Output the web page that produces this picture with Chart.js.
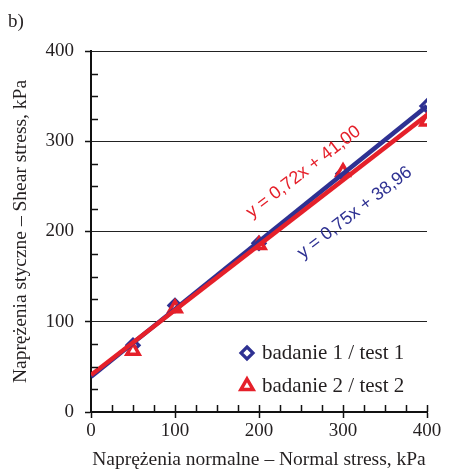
<!DOCTYPE html>
<html>
<head>
<meta charset="utf-8">
<script src="https://cdn.jsdelivr.net/npm/chart.js@4/dist/chart.umd.min.js"></script>
<style>
  html, body { margin: 0; padding: 0; background: #fff; }
  #wrap { width: 450px; height: 469px; position: relative; }
</style>
</head>
<body>
<div id="wrap"><canvas id="c"></canvas></div>
<script>
// Normal stress applied in the direct shear tests (kPa)
const normalStress = [50, 100, 200, 300, 400];
// Measured shear stress at failure (kPa)
const shearTest1 = [74, 118, 187, 264, 339];
const shearTest2 = [68, 115, 185, 266, 322];
// Linear fits: tau = a * sigma + b
const fitSlope = [0.75, 0.72];
const fitIntercept = [38.96, 41.00];
const fitRange = [0, 400];
const fitLabels = ['y = 0,75x + 38,96', 'y = 0,72x + 41,00'];
// Where each fit equation is written, in data units, plus its tilt (degrees)
const fitLabelAt = [[314, 221], [253, 266]];
const fitLabelAngle = [-37.6, -37.6];
const seriesNames = ['badanie 1 / test 1', 'badanie 2 / test 2'];
const axisRange = [0, 400];
const majorStep = 100;
const minorStep = 25;

const BLUE = '#2E3192';
const RED = '#E5202A';
const SERIF = '"Liberation Serif", "Times New Roman", serif';
const SANS = '"Liberation Sans", Arial, sans-serif';

const points = (xs, ys) => xs.map((x, i) => ({ x, y: ys[i] }));
const fitLine = k => fitRange.map(x => ({ x, y: fitSlope[k] * x + fitIntercept[k] }));

// Minor ticks, fit equations, legend and panel letter
const decorations = {
  id: 'decorations',
  afterDatasetsDraw(chart) {
    const { ctx, chartArea: a, scales: { x, y } } = chart;
    ctx.save();
    ctx.strokeStyle = '#111';
    ctx.lineWidth = 1.5;
    ctx.beginPath();
    for (let v = axisRange[0] + minorStep; v <= axisRange[1]; v += minorStep) {
      const py = Math.round(y.getPixelForValue(v)) + 0.5;
      if (v % majorStep !== 0) { ctx.moveTo(a.left, py); ctx.lineTo(a.left + 7, py); }
      const px = Math.round(x.getPixelForValue(v)) + 0.5;
      ctx.moveTo(px, a.bottom); ctx.lineTo(px, a.bottom - 7);
    }
    ctx.stroke();
    ctx.restore();
  },
  afterDraw(chart) {
    const { ctx, scales: { x, y } } = chart;
    ctx.save();
    // fit equations
    const colors = [BLUE, RED];
    ctx.font = '18px ' + SANS;
    ctx.textAlign = 'center';
    ctx.textBaseline = 'middle';
    fitLabels.forEach((t, k) => {
      const px = x.getPixelForValue(fitLabelAt[k][0]);
      const py = y.getPixelForValue(fitLabelAt[k][1]);
      ctx.save();
      ctx.translate(px, py);
      ctx.rotate(fitLabelAngle[k] * Math.PI / 180);
      ctx.fillStyle = colors[k];
      ctx.fillText(t, 0, 0);
      ctx.restore();
    });

    // legend
    const lx = 247, ly = [353, 386];
    ctx.lineJoin = 'miter';
    ctx.fillStyle = '#fff';
    // diamond
    ctx.strokeStyle = BLUE;
    ctx.lineWidth = 3.2;
    ctx.beginPath();
    ctx.moveTo(lx, ly[0] - 6); ctx.lineTo(lx + 6, ly[0]); ctx.lineTo(lx, ly[0] + 6); ctx.lineTo(lx - 6, ly[0]);
    ctx.closePath(); ctx.fill(); ctx.stroke();
    // triangle
    ctx.strokeStyle = RED;
    ctx.lineWidth = 3.5;
    const r = 7;
    ctx.beginPath();
    ctx.moveTo(lx, ly[1] - r);
    ctx.lineTo(lx + r * 0.866, ly[1] + r * 0.5);
    ctx.lineTo(lx - r * 0.866, ly[1] + r * 0.5);
    ctx.closePath(); ctx.fill(); ctx.stroke();

    ctx.fillStyle = '#231F20';
    ctx.font = '21px ' + SERIF;
    ctx.textAlign = 'left';
    ctx.textBaseline = 'middle';
    seriesNames.forEach((n, i) => ctx.fillText(n, lx + 15, ly[i]));

    ctx.font = '19px ' + SERIF;
    ctx.textBaseline = 'alphabetic';
    ctx.fillText('b)', 8, 27);
    ctx.restore();
  }
};

new Chart(document.getElementById('c'), {
  type: 'scatter',
  data: {
    datasets: [
      {
        label: 'fit 2', data: fitLine(1), showLine: true, borderColor: RED,
        borderWidth: 4.5, pointRadius: 0, order: 0
      },
      {
        label: 'fit 1', data: fitLine(0), showLine: true, borderColor: BLUE,
        borderWidth: 4.5, pointRadius: 0, order: 1
      },
      {
        label: seriesNames[1], data: points(normalStress, shearTest2),
        pointStyle: 'triangle', pointRadius: 7, pointBorderWidth: 3.5,
        pointBorderColor: RED, pointBackgroundColor: '#fff', order: 2
      },
      {
        label: seriesNames[0], data: points(normalStress, shearTest1),
        pointStyle: 'rectRot', pointRadius: 6, pointBorderWidth: 3.2,
        pointBorderColor: BLUE, pointBackgroundColor: '#fff', order: 3
      }
    ]
  },
  options: {
    responsive: true,
    maintainAspectRatio: false,
    animation: false,
    layout: { padding: { top: 51, right: 23, left: 0, bottom: 0 } },
    plugins: { legend: { display: false }, tooltip: { enabled: false } },
    scales: {
      x: {
        type: 'linear', min: axisRange[0], max: axisRange[1],
        ticks: { stepSize: majorStep, color: '#231F20', font: { family: SERIF, size: 19 }, padding: 2, maxRotation: 0 },
        grid: { drawOnChartArea: false, tickLength: 6, tickColor: '#111', tickWidth: 1.5 },
        border: { display: true, color: '#111', width: 2 },
        title: { display: true, text: 'Naprężenia normalne – Normal stress, kPa', color: '#231F20',
                 font: { family: SERIF, size: 19.5, lineHeight: 1 }, padding: { top: 0, bottom: -1 } },
        afterFit(s) { s.height = 57; }
      },
      y: {
        type: 'linear', min: axisRange[0], max: axisRange[1],
        ticks: { stepSize: majorStep, color: '#231F20', font: { family: SERIF, size: 19 }, padding: 11 },
        grid: { color: '#222', lineWidth: 1, tickLength: 6, tickColor: '#111', tickWidth: 1.5 },
        border: { display: true, color: '#111', width: 2 },
        title: { display: true, text: 'Naprężenia styczne – Shear stress, kPa', color: '#231F20',
                 font: { family: SERIF, size: 19.5, lineHeight: 1 }, padding: { top: 11, bottom: 0 } },
        afterFit(s) { s.width = 91; }
      }
    }
  },
  plugins: [decorations]
});
</script>
</body>
</html>
